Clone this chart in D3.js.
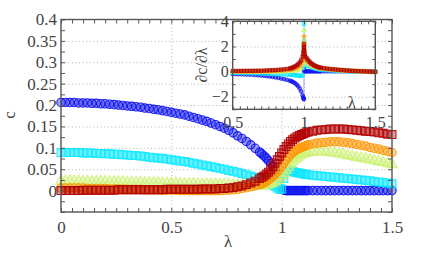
<!DOCTYPE html>
<html>
<head>
<meta charset="utf-8">
<script src="https://cdn.jsdelivr.net/npm/d3@7"></script>
<style>
body { margin: 0; background: #fff; }
text { font-family: "Liberation Serif", "Times New Roman", "DejaVu Serif", serif; fill: #444; }
</style>
</head>
<body>
<script>
// lambda grid of the main plot (denser around the transition)
const lam = [0,0.02,0.04,0.06,0.08,0.1,0.12,0.14,0.16,0.18,0.2,0.22,0.24,0.26,0.28,0.3,0.32,0.34,0.36,0.38,
  0.4,0.42,0.44,0.46,0.48,0.5,0.52,0.54,0.56,0.58,0.6,0.62,0.64,0.66,0.68,0.7,0.72,0.74,0.76,0.78,
  0.8,0.82,0.84,0.86,0.88,
  0.9,0.91,0.92,0.93,0.94,0.95,0.96,0.97,0.98,0.99,1,1.01,1.02,1.03,1.04,1.05,1.06,1.07,1.08,1.09,1.1,1.11,1.12,
  1.14,1.16,1.18,1.2,1.22,1.24,1.26,1.28,1.3,1.32,1.34,1.36,1.38,1.4,1.42,1.44,1.46,1.48,1.5];

const cBlue = [0.206,0.206,0.206,0.206,0.205,0.205,0.205,0.204,0.204,0.203,0.203,0.202,0.201,0.200,0.199,
  0.198,0.197,0.196,0.195,0.193,0.192,0.190,0.189,0.187,0.185,0.183,0.181,0.179,0.177,0.174,
  0.171,0.168,0.165,0.162,0.158,0.154,0.150,0.146,0.141,0.135,0.128,0.122,0.115,0.107,0.099,
  0.090,0.086,0.081,0.076,0.070,0.064,0.057,0.049,0.040,0.027,0.003,
  0.001,0,0,0,0,0,0,0,0,0,0,0,
  0,0,0,0,0,0,0,0,0,0,0,0,0,0,0,0,0,0,0];
const cCyan = [0.089,0.089,0.089,0.089,0.089,0.088,0.088,0.088,0.087,0.087,0.086,0.086,0.085,0.085,0.084,
  0.083,0.082,0.082,0.081,0.080,0.078,0.077,0.076,0.075,0.074,0.072,0.071,0.069,0.068,0.066,
  0.064,0.062,0.060,0.058,0.056,0.054,0.052,0.050,0.047,0.045,0.043,0.040,0.037,0.034,0.031,
  0.028,0.026,0.024,0.021,0.019,0.016,0.013,0.010,0.006,0.003,0.004,
  0.028,0.044,0.047,0.046,0.045,0.043,0.042,0.041,0.040,0.039,0.038,0.037,
  0.036,0.035,0.034,0.033,0.032,0.031,0.030,0.029,0.028,0.027,0.026,0.025,0.024,0.023,0.021,0.020,0.019,0.018,0.016];
const cGreen = [0.022,0.022,0.022,0.022,0.022,0.021,0.021,0.021,0.021,0.021,0.021,0.020,0.020,0.020,0.020,
  0.019,0.019,0.019,0.019,0.018,0.018,0.018,0.018,0.017,0.017,0.017,0.017,0.016,0.016,0.016,
  0.016,0.015,0.015,0.015,0.015,0.015,0.014,0.014,0.014,0.013,0.013,0.013,0.012,0.012,0.011,
  0.011,0.011,0.012,0.013,0.014,0.016,0.018,0.021,0.024,0.029,0.034,
  0.041,0.048,0.055,0.062,0.068,0.073,0.077,0.081,0.084,0.086,0.088,0.089,
  0.090,0.091,0.091,0.090,0.089,0.088,0.086,0.084,0.082,0.080,0.078,0.076,0.074,0.072,0.070,0.068,0.066,0.063,0.061];
const cOrange = [0.006,0.006,0.006,0.006,0.006,0.006,0.005,0.005,0.005,0.005,0.005,0.004,0.004,0.004,0.004,
  0.003,0.003,0.003,0.003,0.002,0.002,0.002,0.002,0.001,0.001,0.001,0.001,0.000,0.000,0.000,
  0.000,0.000,0.000,0.000,0.000,0.000,0.000,0.001,0.001,0.002,0.003,0.005,0.007,0.009,0.011,
  0.014,0.016,0.018,0.021,0.025,0.029,0.033,0.038,0.044,0.050,0.057,
  0.064,0.071,0.078,0.084,0.089,0.093,0.096,0.099,0.101,0.103,0.105,0.107,
  0.109,0.111,0.112,0.113,0.114,0.114,0.114,0.113,0.112,0.110,0.108,0.106,0.104,0.101,0.099,0.097,0.094,0.092,0.089];
const cRed = [0.000,0.000,0.000,0.000,0.000,0.001,0.001,0.001,0.001,0.001,0.001,0.001,0.001,0.002,0.002,
  0.002,0.002,0.002,0.002,0.002,0.002,0.002,0.002,0.002,0.003,0.003,0.003,0.003,0.003,0.003,
  0.003,0.003,0.004,0.004,0.004,0.004,0.005,0.005,0.006,0.007,0.009,0.011,0.014,0.018,0.022,
  0.028,0.031,0.034,0.038,0.043,0.049,0.056,0.064,0.072,0.080,0.088,
  0.096,0.103,0.109,0.115,0.119,0.123,0.126,0.129,0.131,0.133,0.135,0.137,
  0.139,0.141,0.142,0.143,0.144,0.144,0.144,0.144,0.143,0.142,0.141,0.140,0.139,0.138,0.137,0.135,0.134,0.132,0.131];

// lambda grid of the inset (dc/dlambda)
const lamD = [0.5,0.52,0.54,0.56,0.58,0.6,0.62,0.64,0.66,0.68,0.7,0.72,0.74,0.76,0.78,0.8,0.82,0.84,0.86,0.88,
  0.9,0.91,0.92,0.93,0.94,0.95,0.96,0.97,0.98,0.99,
  0.995,0.998,0.999,1,1.001,1.002,1.005,
  1.01,1.02,1.03,1.04,1.05,1.06,1.07,1.08,1.09,1.1,1.11,1.12,
  1.14,1.16,1.18,1.2,1.22,1.24,1.26,1.28,1.3,1.32,1.34,1.36,1.38,1.4,1.42,1.44,1.46,1.48,1.5];

const dBlue = [-0.20,-0.20,-0.21,-0.21,-0.22,-0.23,-0.24,-0.25,-0.27,-0.29,-0.31,-0.33,-0.36,-0.39,-0.42,-0.46,-0.5,-0.55,-0.6,-0.66,
  -0.72,-0.76,-0.81,-0.87,-0.95,-1.05,-1.18,-1.35,-1.58,-1.9,
  -2.05,-2.15,-2.2,0.25,0.1,0.05,0.02,
  0.02,0.02,0.02,0.02,0.02,0.02,0.02,0.02,0.02,0.02,0.02,0.02,
  0.02,0.02,0.02,0.02,0.02,0.02,0.02,0.02,0.02,0.02,0.02,0.02,0.02,0.02,0.02,0.02,0.02,0.02,0.02];
const dCyan = [-0.1,-0.1,-0.1,-0.11,-0.11,-0.12,-0.12,-0.13,-0.13,-0.14,-0.15,-0.16,-0.17,-0.18,-0.19,-0.2,-0.21,-0.22,-0.23,-0.24,
  -0.25,-0.26,-0.27,-0.28,-0.29,-0.3,-0.32,-0.34,-0.36,-0.3,
  0.3,1.2,2.4,3.8,2.4,1.5,0.9,
  0.7,0.55,0.46,0.4,0.35,0.3,0.27,0.24,0.21,0.19,0.17,0.15,
  0.13,0.11,0.1,0.08,0.07,0.06,0.05,0.04,0.03,0.02,0.01,0,-0.01,-0.01,-0.02,-0.02,-0.03,-0.03,-0.03];
const dGreen = [-0.03,-0.03,-0.03,-0.03,-0.03,-0.03,-0.03,-0.03,-0.03,-0.03,-0.03,-0.03,-0.02,-0.02,-0.02,-0.01,-0.01,0,0.01,0.02,
  0.03,0.04,0.05,0.07,0.09,0.12,0.16,0.22,0.32,0.55,
  0.8,1.6,2.4,3.3,2.3,1.7,1.15,
  0.95,0.78,0.66,0.57,0.5,0.44,0.39,0.35,0.32,0.29,0.26,0.24,
  0.21,0.19,0.17,0.15,0.13,0.11,0.1,0.08,0.07,0.06,0.05,0.04,0.03,0.02,0.01,0,-0.01,-0.02,-0.03];
const dOrange = [0,0,0,0,0.01,0.01,0.01,0.01,0.02,0.02,0.02,0.03,0.03,0.04,0.05,0.06,0.07,0.08,0.1,0.12,
  0.14,0.16,0.19,0.22,0.26,0.31,0.38,0.47,0.6,0.85,
  1.2,1.7,2.2,2.8,2.1,1.7,1.3,
  1.05,0.88,0.76,0.66,0.57,0.5,0.44,0.4,0.36,0.32,0.29,0.26,
  0.23,0.2,0.18,0.16,0.14,0.12,0.1,0.08,0.07,0.06,0.04,0.03,0.02,0.01,0,-0.01,-0.02,-0.03,-0.04];
const dRed = [0.05,0.05,0.05,0.05,0.06,0.06,0.06,0.06,0.07,0.07,0.07,0.08,0.09,0.1,0.11,0.12,0.14,0.16,0.18,0.21,
  0.25,0.28,0.32,0.37,0.43,0.5,0.6,0.73,0.9,1.2,
  1.45,1.7,1.95,2.2,1.9,1.65,1.4,
  1.2,1.05,0.9,0.78,0.66,0.58,0.5,0.45,0.4,0.36,0.33,0.3,
  0.27,0.24,0.21,0.19,0.17,0.15,0.13,0.11,0.09,0.08,0.06,0.05,0.04,0.03,0.02,0.01,0,-0.01,-0.02];

const colors = ["#0a10f0", "#10e8ff", "#cdf276", "#ff9600", "#b00000"];
const shapes = [d3.symbolCircle, d3.symbolSquare, d3.symbolTriangle, d3.symbolCircle, d3.symbolSquare];
const mainSeries = [cBlue, cCyan, cGreen, cOrange, cRed];
const insetSeries = [dBlue, dCyan, dGreen, dOrange, dRed];

const xTicks = [0, 0.5, 1, 1.5];
const xTickLabels = ["0", "0.5", "1", "1.5"];
const yTicks = [0, 0.05, 0.1, 0.15, 0.2, 0.25, 0.3, 0.35, 0.4];
const yTickLabels = ["0", "0.05", "0.1", "0.15", "0.2", "0.25", "0.3", "0.35", "0.4"];
const xiTicks = [0.5, 1, 1.5];
const xiTickLabels = ["0.5", "1", "1.5"];
const yiTicks = [4, 2, 0, -2];
const yiTickLabels = ["4", "2", "0", "\u22122"];

const width = 432;
const height = 256;
const serif = '"Liberation Serif", "Times New Roman", "DejaVu Serif", serif';
const svg = d3.select("body").append("svg").attr("width", width).attr("height", height);

const x = d3.scaleLinear([0, 1.5], [61, 392]);
const y = d3.scaleLinear([-0.05, 0.4], [212, 19.5]);
const xi = d3.scaleLinear([0.5, 1.5], [232.7, 375.3]);
const yi = d3.scaleLinear([-3, 4], [109.3, 21.3]);

function grid(g, xs, ys, xv, yv) {
    const [x0, x1] = xs.range(), [y0, y1] = ys.range();
    g.append("g").attr("transform", `translate(0,${y0})`)
        .call(d3.axisBottom(xs).tickValues(xv).tickSize(y1 - y0).tickFormat(""));
    g.append("g").attr("transform", `translate(${x0},0)`)
        .call(d3.axisLeft(ys).tickValues(yv).tickSize(x0 - x1).tickFormat(""));
    g.selectAll(".domain").remove();
    g.selectAll(".tick line").attr("stroke", "#9a9a9a").attr("stroke-width", 0.8).attr("stroke-dasharray", "1,2.6");
}

function frame(g, xs, ys, xStep, yStep, len) {
    const [x0, x1] = xs.range(), [y0, y1] = ys.range();
    const xm = d3.range(xs.domain()[0], xs.domain()[1] + 1e-9, xStep);
    const ym = d3.range(ys.domain()[0], ys.domain()[1] + 1e-9, yStep);
    g.append("g").attr("transform", `translate(0,${y0})`).call(d3.axisBottom(xs).tickValues(xm).tickSize(-len).tickFormat(""));
    g.append("g").attr("transform", `translate(0,${y1})`).call(d3.axisTop(xs).tickValues(xm).tickSize(-len).tickFormat(""));
    g.append("g").attr("transform", `translate(${x0},0)`).call(d3.axisLeft(ys).tickValues(ym).tickSize(-len).tickFormat(""));
    g.append("g").attr("transform", `translate(${x1},0)`).call(d3.axisRight(ys).tickValues(ym).tickSize(-len).tickFormat(""));
    g.selectAll(".domain").remove();
    g.selectAll(".tick line").attr("stroke", "#555").attr("stroke-width", 1);
    g.append("rect").attr("x", x0).attr("y", y1).attr("width", x1 - x0).attr("height", y0 - y1)
        .attr("fill", "none").attr("stroke", "#555").attr("stroke-width", 1.4);
}

function labels(g, xs, ys, xv, xl, yv, yl, padX, padY, size) {
    g.append("g").attr("transform", `translate(0,${ys.range()[0]})`)
        .call(d3.axisBottom(xs).tickValues(xv).tickSize(0).tickPadding(padX).tickFormat((d, i) => xl[i]));
    g.append("g").attr("transform", `translate(${xs.range()[0]},0)`)
        .call(d3.axisLeft(ys).tickValues(yv).tickSize(0).tickPadding(padY).tickFormat((d, i) => yl[i]));
    g.selectAll(".domain").remove();
    g.selectAll("g").attr("font-family", serif);
    g.selectAll("text").attr("fill", "#444").style("font-size", size + "px").style("font-family", serif);
}

// main plot
const main = svg.append("g");
grid(main.append("g"), x, y, [0.5, 1], yTicks.slice(1, -1));

mainSeries.forEach((vals, k) => {
    main.append("g").selectAll("path")
        .data(lam.map((l, i) => [l, vals[i]])).enter()
        .append("path")
        .attr("transform", d => `translate(${x(d[0])},${y(d[1])})`)
        .attr("d", d3.symbol().type(shapes[k]).size(k == 2 ? 50 : (shapes[k] == d3.symbolSquare ? 62 : 56)))
        .attr("fill", colors[k]).attr("fill-opacity", 0.38)
        .attr("stroke", colors[k]).attr("stroke-opacity", 0.9).attr("stroke-width", 1.1);
});

frame(main.append("g"), x, y, 0.05, 0.025, 4);
labels(main.append("g"), x, y, xTicks, xTickLabels, yTicks, yTickLabels, 9, 4, 17);

main.append("text").attr("x", 228).attr("y", 247).attr("text-anchor", "middle")
    .style("font-size", "17px").style("font-family", serif).text("λ");
main.append("text").attr("transform", "translate(15,115) rotate(-90)").attr("text-anchor", "middle")
    .style("font-size", "17px").style("font-family", serif).text("c");

// inset
const inset = svg.append("g");
inset.append("rect").attr("x", 232.7).attr("y", 21.3).attr("width", 375.3 - 232.7).attr("height", 109.3 - 21.3)
    .attr("fill", "#fff");
grid(inset.append("g"), xi, yi, [1], [2, 0, -2]);

insetSeries.forEach((vals, k) => {
    const pts = lamD.map((l, i) => [l, vals[i]]);
    inset.append("path").datum(pts)
        .attr("d", d3.line().x(d => xi(d[0])).y(d => yi(d[1])))
        .attr("fill", "none").attr("stroke", colors[k]).attr("stroke-opacity", 0.45).attr("stroke-width", 0.8);
    inset.append("g").selectAll("path")
        .data(pts).enter()
        .append("path")
        .attr("transform", d => `translate(${xi(d[0])},${yi(d[1])})`)
        .attr("d", d3.symbol().type(shapes[k]).size(k == 2 ? 12 : 11))
        .attr("fill", colors[k]).attr("fill-opacity", 0.5)
        .attr("stroke", colors[k]).attr("stroke-opacity", 0.9).attr("stroke-width", 0.8);
});

frame(inset.append("g"), xi, yi, 0.05, 1, 3);
labels(inset.append("g"), xi, yi, xiTicks, xiTickLabels, yiTicks, yiTickLabels, 7, 4, 16);

inset.append("text").attr("x", 352).attr("y", 108).attr("text-anchor", "middle")
    .style("font-size", "16px").style("font-family", serif).text("λ");
inset.append("text").attr("transform", "translate(207,65) rotate(-90)").attr("text-anchor", "middle")
    .style("font-size", "16px").style("font-family", serif).text("∂c/∂λ");
</script>
</body>
</html>
